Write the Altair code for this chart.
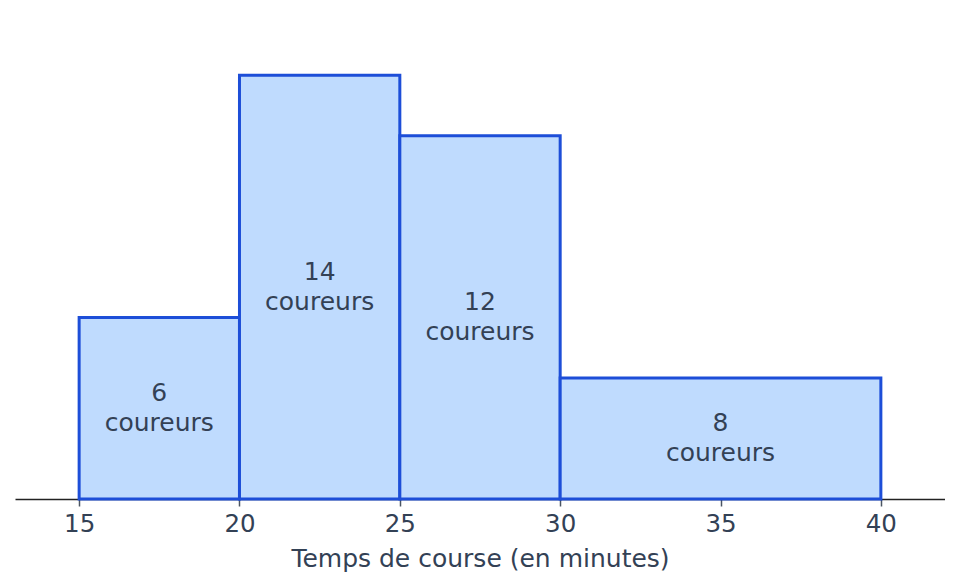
import altair as alt
import pandas as pd

bin_start = [15, 20, 25, 30]
bin_end = [20, 25, 30, 40]
counts = [6, 14, 12, 8]
label_word = "coureurs"

df = pd.DataFrame({
    "start": bin_start,
    "end": bin_end,
    "count": counts,
})
df["density"] = df["count"] / (df["end"] - df["start"])
df["mid"] = (df["start"] + df["end"]) / 2
df["half"] = df["density"] / 2
df["label"] = [[str(c), label_word] for c in counts]

FONT = "DejaVu Sans"
TXT = "#334155"

x_scale = alt.Scale(domain=[13, 42], nice=False, zero=False)
y_scale = alt.Scale(domain=[0, 3.0], nice=False)

bars = alt.Chart(df).mark_rect(
    fill="#bfdbfe", stroke="#1d4ed8", strokeWidth=3
).encode(
    x=alt.X("start:Q", scale=x_scale,
            axis=alt.Axis(values=[15, 20, 25, 30, 35, 40], title="Temps de course (en minutes)",
                          grid=False, domainColor="#222222", domainWidth=1.5,
                          tickColor="#4b5563", tickSize=7, tickWidth=1.5,
                          labelFont=FONT, labelFontSize=24.5, labelColor=TXT, labelPadding=6,
                          titleFont=FONT, titleFontSize=25, titleColor=TXT, titleFontWeight="normal",
                          titlePadding=11)),
    x2="end:Q",
    y=alt.Y("density:Q", scale=y_scale, axis=None),
    y2=alt.datum(0),
)

labels = alt.Chart(df).mark_text(
    font=FONT, fontSize=25, color=TXT, lineHeight=30, baseline="middle", align="center", dy=-15
).encode(
    x=alt.X("mid:Q", scale=x_scale),
    y=alt.Y("half:Q", scale=y_scale),
    text="label",
)

chart = (bars + labels).properties(
    width=930, height=454,
    padding={"left": 7, "top": 37, "right": 0, "bottom": 80},
    autosize=alt.AutoSizeParams(type="none"),
).configure_view(stroke=None)

chart.save("out.html", embed_options={"renderer": "svg", "actions": False})
